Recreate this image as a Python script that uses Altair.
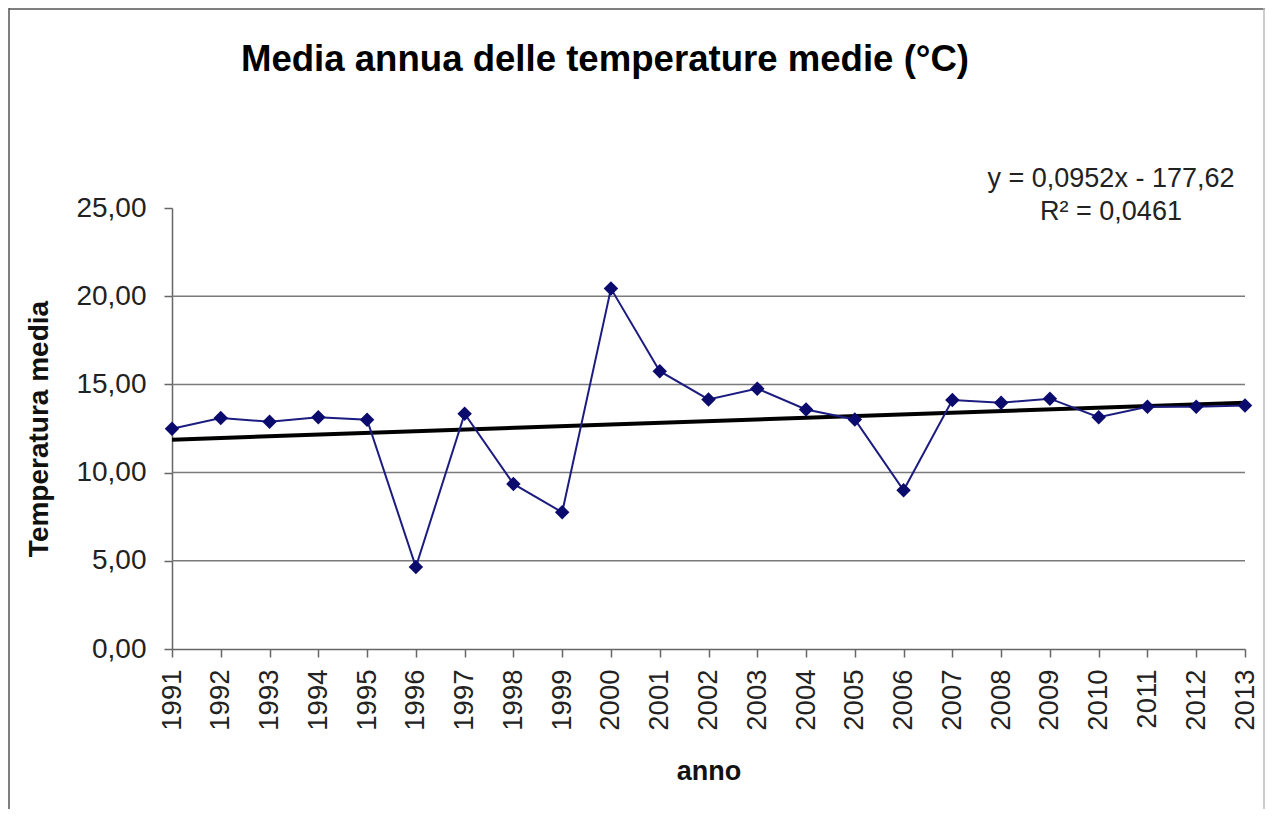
import altair as alt
import pandas as pd

anni = [1991, 1992, 1993, 1994, 1995, 1996, 1997, 1998, 1999, 2000, 2001, 2002,
        2003, 2004, 2005, 2006, 2007, 2008, 2009, 2010, 2011, 2012, 2013]
temperature = [12.49, 13.09, 12.88, 13.14, 13.00, 4.65, 13.34, 9.36, 7.75, 20.43, 15.75, 14.15,
               14.76, 13.58, 13.01, 9.00, 14.11, 13.96, 14.19, 13.14, 13.73, 13.73, 13.81]
y_ticks = [0, 5, 10, 15, 20, 25]
grid_values = [5, 10, 15, 20]
titolo = "Media annua delle temperature medie (°C)"
equazione = ["y = 0,0952x - 177,62", "R² = 0,0461"]

FONT = "Liberation Sans"
W, H = 1073, 441

df = pd.DataFrame({"anno": anni, "temp": temperature})
grid_df = pd.DataFrame({"v": grid_values})

x_enc = alt.X("anno:Q",
              scale=alt.Scale(domain=[anni[0], anni[-1]], nice=False, zero=False),
              axis=alt.Axis(values=anni, format="d", labelAngle=-90, labelFontSize=27.5,
                            labelFont=FONT, labelColor="#222222", tickSize=8, tickColor="#666666",
                            domainColor="#666666", domainWidth=1.5, tickWidth=1.5, labelPadding=12,
                            grid=False, title="anno", titleFont=FONT, titleFontSize=27,
                            titleFontWeight="bold", titleColor="#111111", titlePadding=28))
y_enc = alt.Y("temp:Q",
              scale=alt.Scale(domain=[0, 25], nice=False),
              axis=alt.Axis(values=y_ticks, labelExpr="replace(format(datum.value, '.2f'), '.', ',')",
                            labelFontSize=28, labelFont=FONT, labelColor="#222222", tickSize=8,
                            tickColor="#666666", domainColor="#666666", domainWidth=1.5, tickWidth=1.5,
                            labelPadding=18, grid=False, title="Temperatura media", titleFont=FONT,
                            titleFontSize=28, titleFontWeight="bold", titleColor="#111111",
                            titlePadding=22))

base = alt.Chart(df)

grid = alt.Chart(grid_df).mark_rule(color="#7a7a7a", strokeWidth=1.5).encode(
    y=alt.Y("v:Q", scale=alt.Scale(domain=[0, 25], nice=False)),
    x=alt.value(0), x2=alt.value(W))

line = base.mark_line(color="#1c1c80", strokeWidth=2).encode(x=x_enc, y=y_enc)
points = base.mark_point(shape="diamond", filled=True, size=210, color="#0b0b6e", opacity=1).encode(
    x="anno:Q", y="temp:Q")
trend = base.transform_regression("anno", "temp").mark_line(color="#000000", strokeWidth=4).encode(
    x="anno:Q", y="temp:Q")

title = alt.Chart(pd.DataFrame({"t": [titolo]})).mark_text(
    font=FONT, fontSize=36.6, fontWeight="bold", align="center", baseline="alphabetic", color="#000000"
).encode(text="t:N", x=alt.value(433), y=alt.value(-137))

eq = alt.Chart(pd.DataFrame({"k": [0]})).mark_text(
    font=FONT, fontSize=27, align="center", baseline="alphabetic", color="#222222", lineHeight=33,
    text=equazione
).encode(x=alt.value(939), y=alt.value(-21))

frame_left = alt.Chart(pd.DataFrame({"k": [0]})).mark_rule(color="#555555", strokeWidth=1.5).encode(
    x=alt.value(-163), y=alt.value(-200), y2=alt.value(H + 170))
frame_top = alt.Chart(pd.DataFrame({"k": [0]})).mark_rule(color="#555555", strokeWidth=1.5).encode(
    x=alt.value(-163), x2=alt.value(W + 20), y=alt.value(-199))
frame_right = alt.Chart(pd.DataFrame({"k": [0]})).mark_rule(color="#bbbbbb", strokeWidth=1.5).encode(
    x=alt.value(W + 19), y=alt.value(-200), y2=alt.value(H + 170))

chart = alt.layer(grid, trend, line, points, title, eq, frame_left, frame_top, frame_right).properties(
    width=W, height=H,
    autosize=alt.AutoSizeParams(type="none"),
    padding={"left": 164, "top": 200, "right": 21, "bottom": 160},
    background="white"
).configure_view(stroke=None)

chart.save("out.html", embed_options={"renderer": "svg", "actions": False})
